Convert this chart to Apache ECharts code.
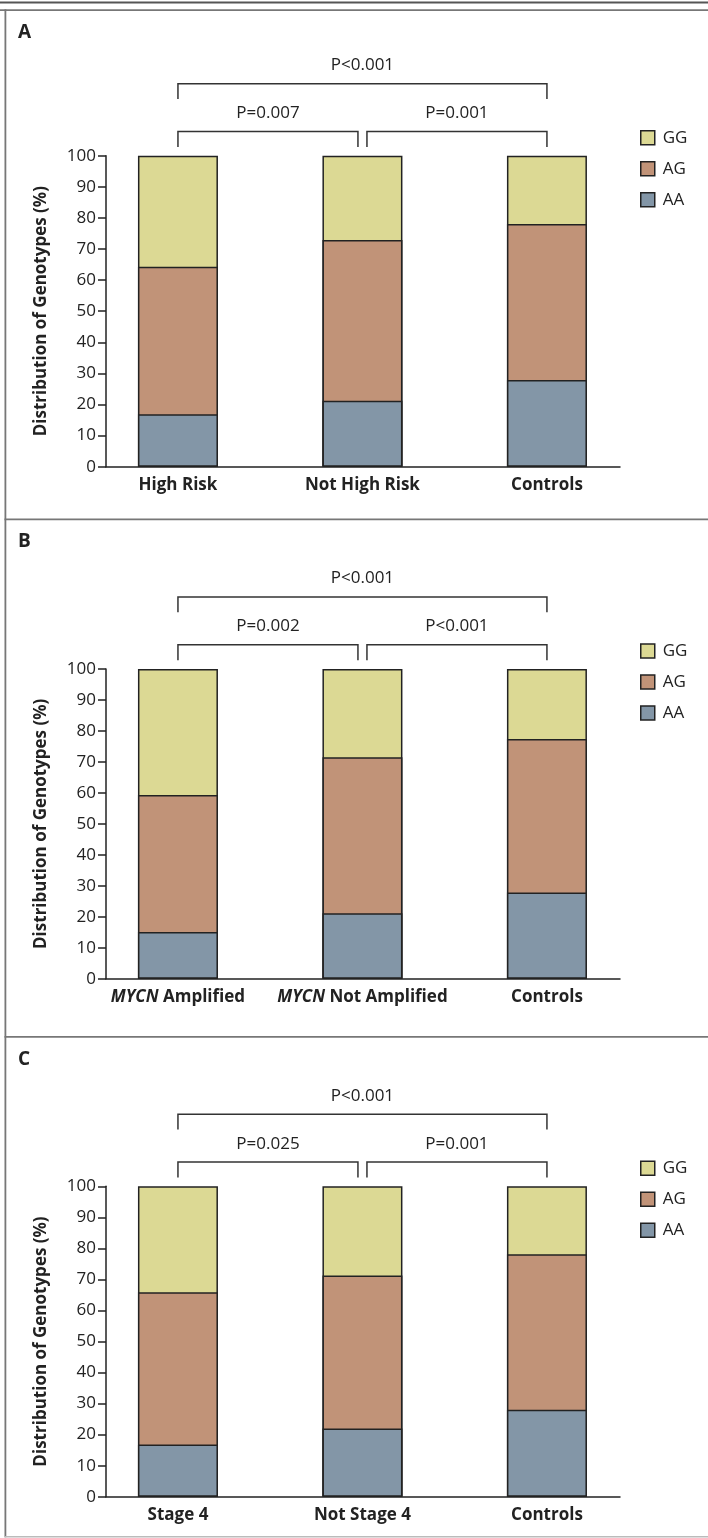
<!DOCTYPE html>
<html>
<head>
<meta charset="utf-8">
<script src="https://cdn.jsdelivr.net/npm/echarts@6/dist/echarts.min.js"></script>
<style>
html, body { margin: 0; padding: 0; background: #fff; }
#main { width: 708px; height: 1538px; }
</style>
</head>
<body>
<div id="main"></div>
<script>
//面板标签
var panelNames = ['A', 'B', 'C'];
//各面板分组
var groupsA = ['High Risk', 'Not High Risk', 'Controls'];
var groupsB = ['MYCN Amplified', 'MYCN Not Amplified', 'Controls'];
var groupsC = ['Stage 4', 'Not Stage 4', 'Controls'];
//基因型分布(%)
var aaA = [16.9, 21.2, 27.9];
var agA = [47.4, 51.7, 50.1];
var ggA = [35.7, 27.1, 22.0];
var aaB = [15.1, 21.1, 27.8];
var agB = [44.2, 50.4, 49.6];
var ggB = [40.7, 28.5, 22.6];
var aaC = [16.8, 22.0, 28.0];
var agC = [49.1, 49.3, 50.1];
var ggC = [34.1, 28.7, 21.9];
//图例顺序
var genotypes = ['GG', 'AG', 'AA'];
//纵轴刻度
var yMin = 0;
var yMax = 100;
var yStep = 10;
//比较括号: 起点组, 终点组, 层级
var bracketPairs = [[0, 1, 0], [1, 2, 0], [0, 2, 1]];
var pA = ['P=0.007', 'P=0.001', 'P<0.001'];
var pB = ['P=0.002', 'P<0.001', 'P<0.001'];
var pC = ['P=0.025', 'P=0.001', 'P<0.001'];

var panels = [
	{ groups: groupsA, aa: aaA, ag: agA, gg: ggA, p: pA },
	{ groups: groupsB, aa: aaB, ag: agB, gg: ggB, p: pB },
	{ groups: groupsC, aa: aaC, ag: agC, gg: ggC, p: pC }
];

//布局
var FONT = "'Open Sans', sans-serif";
var INK = '#222';
var plotTop = [155.7, 669, 1186.3];
var plotBottom = [466.7, 978.7, 1496.7];
var panelTop = [10, 519.3, 1036.7];
var colors = { GG: '#dcd994', AG: '#c19378', AA: '#8396a7' };

var chart = echarts.init(document.getElementById('main'));

var makeBrackets = function(labels) {
	return function(params, api) {
		var from = api.value(0);
		var to = api.value(1);
		var level = api.value(2);
		var a = api.coord([from, yMax]);
		var b = api.coord([to, yMax]);
		var x1 = a[0] + (from === 1 ? 4.5 : 0);
		var x2 = b[0] - (to === 1 ? 4.5 : 0);
		var yTop = a[1] - (level ? 72 : 24.3);
		var yLeg = a[1] - (level ? 56.7 : 8.7);
		var yText = a[1] - (level ? 90.5 : 42.5);
		return {
			type: 'group',
			children: [{
				type: 'polyline',
				shape: { points: [[x1, yLeg], [x1, yTop], [x2, yTop], [x2, yLeg]] },
				style: { stroke: '#333', lineWidth: 1.5, fill: null }
			}, {
				type: 'text',
				x: (x1 + x2) / 2,
				y: yText,
				style: {
					text: labels[params.dataIndex],
					fill: INK,
					font: '17px ' + FONT,
					align: 'center',
					verticalAlign: 'middle'
				}
			}]
		};
	};
};

var option = {
	animation: false,
	backgroundColor: '#fff',
	grid: [],
	xAxis: [],
	yAxis: [],
	legend: [],
	series: [],
	graphic: []
};

panels.forEach(function(pn, k) {
	option.grid.push({
		left: 106,
		width: 514,
		top: plotTop[k],
		height: plotBottom[k] - plotTop[k],
		containLabel: false
	});
	option.xAxis.push({
		type: 'value',
		gridIndex: k,
		min: -0.39,
		max: 2.396,
		axisLine: { show: true, onZero: false, lineStyle: { color: INK, width: 1.5 } },
		axisTick: { show: false },
		splitLine: { show: false },
		axisLabel: {
			customValues: [0, 1, 2],
			margin: 10,
			color: INK,
			fontSize: 17,
			fontWeight: 'bold',
			fontFamily: FONT,
			formatter: function(v) {
				var name = pn.groups[Math.round(v)] || '';
				return name.replace('MYCN', '{i|MYCN}');
			},
			rich: {
				i: { fontStyle: 'italic', fontWeight: 'bold', fontSize: 17, fontFamily: FONT, color: INK }
			}
		}
	});
	option.yAxis.push({
		type: 'value',
		gridIndex: k,
		min: yMin,
		max: yMax,
		interval: yStep,
		name: 'Distribution of Genotypes (%)',
		nameLocation: 'middle',
		nameGap: 56,
		nameTextStyle: { color: INK, fontSize: 17, fontWeight: 'bold', fontFamily: FONT },
		axisLine: { show: true, onZero: false, lineStyle: { color: INK, width: 1.5 } },
		axisTick: { show: true, length: 8, lineStyle: { color: INK, width: 1.5 } },
		splitLine: { show: false },
		axisLabel: { margin: 10, color: INK, fontSize: 17, fontFamily: FONT }
	});
	option.legend.push({
		orient: 'vertical',
		left: 640,
		top: plotTop[k] - 26.5,
		padding: 0,
		itemWidth: 14,
		itemHeight: 14,
		itemGap: 14,
		icon: 'rect',
		selectedMode: false,
		data: genotypes,
		itemStyle: { borderColor: INK, borderWidth: 1.5 },
		textStyle: { color: INK, fontSize: 17, fontFamily: FONT, lineHeight: 14, padding: [0, 0, 0, 3] }
	});
	//叠加柱: GG(总高), AG(AA+AG), AA
	var topGG = [], topAG = [], topAA = [];
	for (var i = 0; i < pn.groups.length; i++) {
		topAA.push([i, pn.aa[i]]);
		topAG.push([i, pn.aa[i] + pn.ag[i]]);
		topGG.push([i, pn.aa[i] + pn.ag[i] + pn.gg[i]]);
	}
	[['GG', topGG], ['AG', topAG], ['AA', topAA]].forEach(function(s) {
		option.series.push({
			name: s[0],
			type: 'bar',
			xAxisIndex: k,
			yAxisIndex: k,
			data: s[1],
			barWidth: 80,
			barGap: '-100%',
			itemStyle: { color: colors[s[0]], borderColor: INK, borderWidth: 1.5 },
			emphasis: { disabled: true }
		});
	});
	option.series.push({
		type: 'custom',
		xAxisIndex: k,
		yAxisIndex: k,
		clip: false,
		silent: true,
		data: bracketPairs,
		renderItem: makeBrackets(pn.p)
	});
	option.graphic.push({
		type: 'text',
		left: 18,
		top: panelTop[k] + 13,
		style: { text: panelNames[k], fill: INK, font: 'bold 19px ' + FONT }
	});
});

//外框线
option.graphic.push(
	{ type: 'rect', shape: { x: 0, y: 1.5, width: 708, height: 2 }, style: { fill: '#555' } },
	{ type: 'rect', shape: { x: 0, y: 9.3, width: 708, height: 1.7 }, style: { fill: '#777' } },
	{ type: 'rect', shape: { x: 4.5, y: 9.3, width: 1.8, height: 1528 }, style: { fill: '#777' } },
	{ type: 'rect', shape: { x: 4.5, y: 518.5, width: 704, height: 1.8 }, style: { fill: '#777' } },
	{ type: 'rect', shape: { x: 4.5, y: 1036, width: 704, height: 1.8 }, style: { fill: '#777' } },
	{ type: 'rect', shape: { x: 4.5, y: 1536, width: 704, height: 1.5 }, style: { fill: '#bbb' } }
);

chart.setOption(option);
</script>
</body>
</html>
